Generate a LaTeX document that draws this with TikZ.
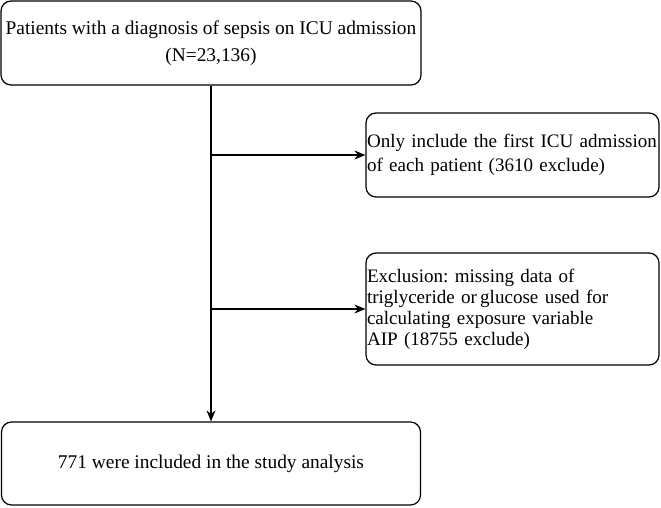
\documentclass[tikz,border=0pt]{standalone}
\usepackage{fontspec}
\setmainfont{Liberation Serif}
\usetikzlibrary{arrows.meta}
\frenchspacing
\begin{document}
\begin{tikzpicture}[x=1pt,y=-1pt,
  box/.style={draw, line width=1.2pt, rounded corners=10pt, rectangle, inner sep=0pt,
    font=\fontsize{19.4}{21}\selectfont},
  sidebox/.style={box, minimum width=293pt, text width=291pt, inner xsep=1pt, align=left,
    font=\fontsize{19.05}{21}\selectfont},
  arr/.style={line width=1.1pt, -{Stealth[length=11pt,width=9pt]}}]
\useasboundingbox (0,0) rectangle (661,507);
\node[box, minimum width=420pt, minimum height=84pt, align=center] (top) at (211,43)
  {Patients with a diagnosis of sepsis on ICU admission\\[6pt](N=23,136)};
\node[sidebox, minimum height=84pt] (b2) at (512.5,155)
  {\mbox{Only include the first ICU admission}\\[3.5pt]\mbox{of each patient (3610 exclude)}};
\node[sidebox, minimum height=112pt] (b3) at (512.5,309)
  {\mbox{Exclusion: missing data of}\\\mbox{triglyceride or\,glucose used for}\\\mbox{calculating exposure variable}\\\mbox{AIP (18755 exclude)}};
\node[box, minimum width=419pt, minimum height=83pt, align=center] (bot) at (211,463.5)
  {771 were included in the study analysis};
\coordinate (j1) at (211,155);
\coordinate (j2) at (211,309);
\draw[arr] (top.south) -- (bot.north);
\draw[arr] (j1) -- (j1 -| b2.west);
\draw[arr] (j2) -- (j2 -| b3.west);
\end{tikzpicture}
\end{document}
